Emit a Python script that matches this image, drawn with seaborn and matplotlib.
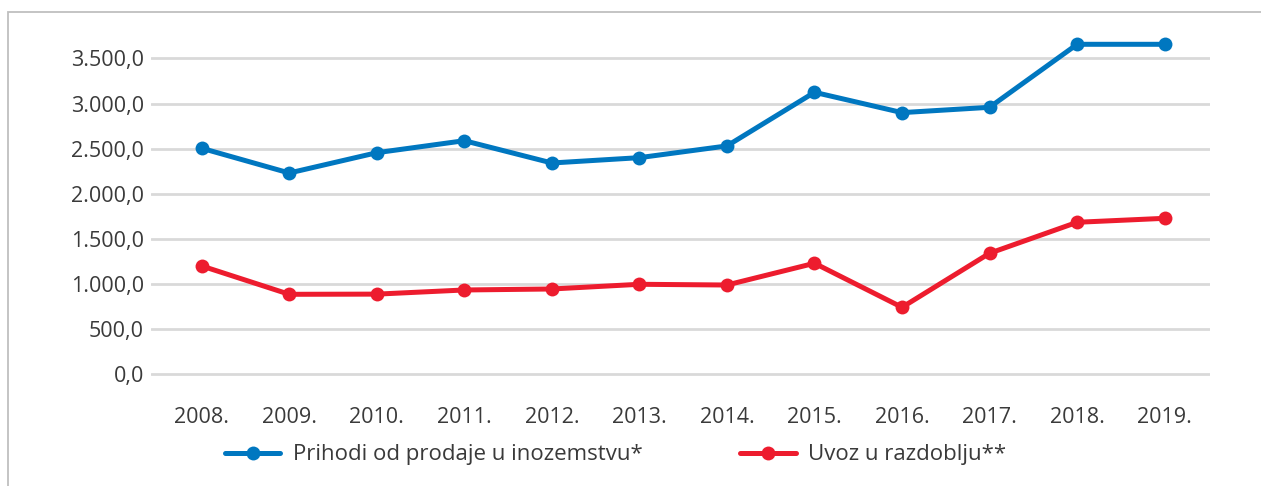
import numpy as np
import pandas as pd
import matplotlib
matplotlib.use("Agg")
import matplotlib.pyplot as plt
import seaborn as sns
from matplotlib.ticker import FuncFormatter
from matplotlib.patches import Rectangle

# podaci (ocitano s grafa)
godine = ["2008.", "2009.", "2010.", "2011.", "2012.", "2013.",
          "2014.", "2015.", "2016.", "2017.", "2018.", "2019."]
prihodi = [2504, 2230, 2455, 2588, 2341, 2400, 2530, 3124, 2899, 2958, 3656, 3656]
uvoz = [1200, 886, 888, 934, 945, 997, 989, 1230, 742, 1341, 1684, 1728]
serije = ["Prihodi od prodaje u inozemstvu*", "Uvoz u razdoblju**"]
boje = ["#0077C0", "#ED1C2E"]

df = pd.DataFrame({
    "godina": godine * 2,
    "vrijednost": prihodi + uvoz,
    "serija": [serije[0]] * len(godine) + [serije[1]] * len(godine),
})

sns.set_theme(style="white")
plt.rcParams["font.family"] = ["Open Sans", "DejaVu Sans"]
tekst = "#3a3a3a"
fs = 15.5

fig = plt.figure(figsize=(12.61, 4.86), dpi=100)
ax = fig.add_axes([0.1197, 0.2206, 0.84, 0.715])

sns.lineplot(data=df, x="godina", y="vrijednost", hue="serija", palette=boje,
             sort=False, marker="o", markersize=10, markeredgewidth=0,
             linewidth=3.6, ax=ax, legend=False)

ax.set_xlim(-0.58, 11.52)
ax.set_ylim(-50, 3800)
ax.set_yticks(np.arange(0, 3501, 500))
ax.yaxis.set_major_formatter(FuncFormatter(
    lambda v, p: f"{v:,.1f}".replace(",", "X").replace(".", ",").replace("X", ".")))
ax.grid(axis="y", color="#D9D9D9", linewidth=2)
ax.set_axisbelow(True)
for s in ax.spines.values():
    s.set_visible(False)
ax.tick_params(axis="both", length=0, labelsize=fs, colors=tekst)
ax.tick_params(axis="y", pad=5)
ax.tick_params(axis="x", pad=20)
ax.set_xlabel("")
ax.set_ylabel("")

# legenda
ruke = [plt.Line2D([], [], color=c, marker="o", markersize=10, markeredgewidth=0,
                   linewidth=3.6) for c in boje]
fig.legend(ruke, serije, loc="center", bbox_to_anchor=(0.488, 0.064), ncol=2,
           frameon=False, fontsize=16, handlelength=2.5, handletextpad=0.55,
           columnspacing=4.4, labelcolor=tekst)

# okvir
fig.patches.append(Rectangle((8 / 1261, -0.2), 1.2, 1.2 - 12 / 486,
                             transform=fig.transFigure, fill=False,
                             edgecolor="#BFBFBF", linewidth=1.3))

fig.savefig("out.png", dpi=100)
